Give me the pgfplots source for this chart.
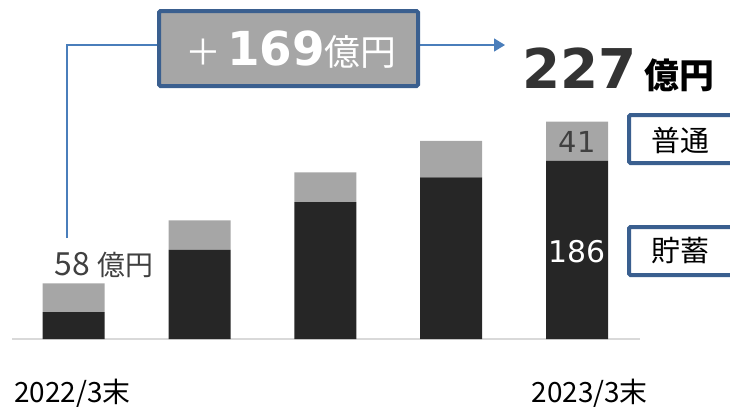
\documentclass[border=0pt]{standalone}
\usepackage{fontspec}
\setmainfont{Noto Sans CJK JP}
\newfontfamily\numfont{DejaVu Sans}
\usepackage{pgfplots}
\pgfplotsset{compat=1.18}
\usetikzlibrary{arrows.meta}
\definecolor{darkbar}{HTML}{262626}
\definecolor{graybar}{HTML}{A6A6A6}
\definecolor{axisgray}{HTML}{D9D9D9}
\definecolor{boxblue}{HTML}{3A5F8F}
\definecolor{linkblue}{HTML}{4A7EBB}
\definecolor{txt}{HTML}{404040}

\begin{document}
\begin{tikzpicture}[x=1bp,y=1bp]
\path[use as bounding box] (0,0) rectangle (730,-411);
\begin{axis}[
  at={(12bp,-339bp)}, anchor=south west,
  scale only axis, width=628bp, height=335bp,
  xmin=-0.49, xmax=4.5, ymin=0, ymax=350,
  ybar stacked, bar width=62bp,
  axis x line*=bottom, axis y line=none,
  x axis line style={draw=axisgray, line width=1.5bp, -},
  xtick=\empty, ytick=\empty,
  clip=false,
]
% 貯蓄
\addplot[fill=darkbar, draw=none] coordinates {(0,28) (1,93) (2,143) (3,169) (4,186)};
% 普通
\addplot[fill=graybar, draw=none] coordinates {(0,30) (1,31) (2,31) (3,38) (4,41)};
\coordinate (l41) at (axis cs:4,206);
\coordinate (l186) at (axis cs:4,91);
\coordinate (l58) at (axis cs:-0.15,64);
\coordinate (lx0) at (axis cs:-0.01,-57);
\coordinate (lx4) at (axis cs:4.1,-57);
\end{axis}
\node[txt] at (l41) {\numfont\fontsize{29}{30}\selectfont 41};
\node[white] at (l186) {\numfont\fontsize{30}{32}\selectfont 186};
\node[txt, anchor=south west, inner sep=0pt] at (l58) {\fontsize{32}{34}\selectfont 58\ \fontsize{28}{30}\selectfont 億円};
\node at (lx0) {\fontsize{28}{30}\selectfont 2022/3末};
\node at (lx4) {\fontsize{28}{30}\selectfont 2023/3末};
% connector
\draw[linkblue, line width=1.5bp] (67,-238) -- (67,-45) -- (157,-45);
\draw[linkblue, line width=1.5bp, -{Triangle[length=11bp,width=13bp]}] (420,-45) -- (505,-45);
\draw[boxblue, line width=4bp, fill=graybar, rounded corners=1.5bp] (159,-11) rectangle (418,-86);
\node[white] at (291,-50) {\fontsize{36}{40}\selectfont ＋\,{\numfont\bfseries\fontsize{47}{50}\selectfont 169}\fontsize{36}{40}\selectfont 億円};
\node[anchor=base west, inner sep=0pt] at (522,-88) {\textcolor{txt!80!black}{\numfont\bfseries\fontsize{55}{60}\selectfont 227}\hspace{8bp}\bfseries\fontsize{35}{40}\selectfont 億円};
% legend boxes
\draw[boxblue, line width=4bp, fill=white, rounded corners=1.5bp] (629,-115) rectangle (745,-163);
\node at (680,-140) {\fontsize{29}{32}\selectfont 普通};
\draw[boxblue, line width=4bp, fill=white, rounded corners=1.5bp] (629,-227) rectangle (745,-275);
\node at (680,-251) {\fontsize{29}{32}\selectfont 貯蓄};
\end{tikzpicture}
\end{document}
